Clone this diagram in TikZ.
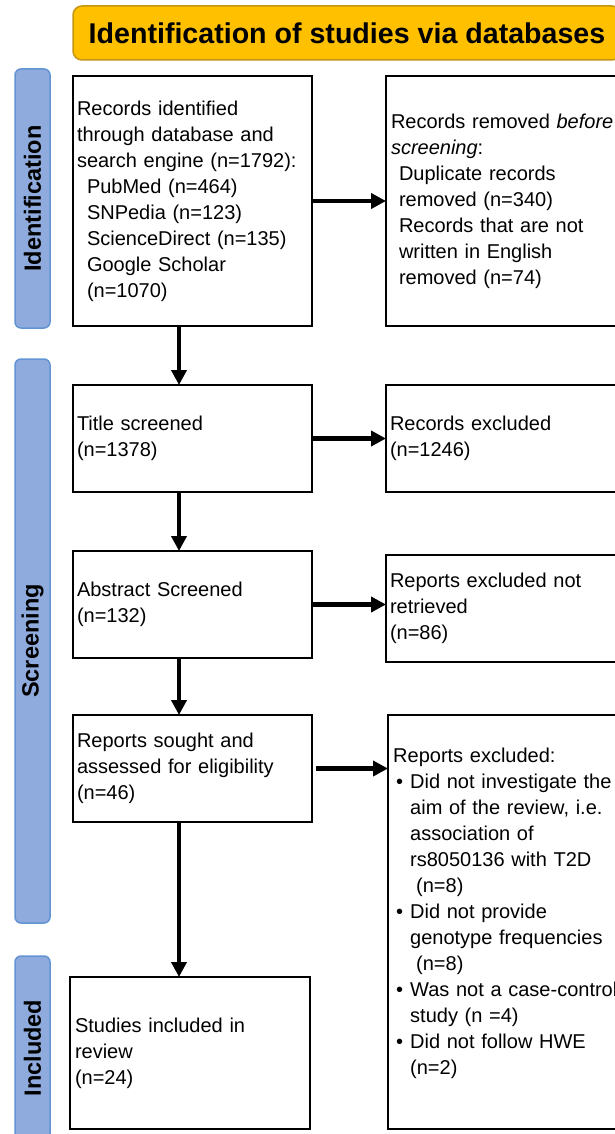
\documentclass[tikz,border=0pt]{standalone}
\usepackage{fontspec}
\setmainfont{Liberation Sans}
\usetikzlibrary{arrows.meta,calc}
\definecolor{gold}{RGB}{255,192,0}
\definecolor{goldborder}{RGB}{196,150,20}
\definecolor{barfill}{RGB}{143,170,220}
\definecolor{barborder}{RGB}{98,148,212}
\newcommand{\bul}{\makebox[17pt][l]{\hspace*{3pt}\textbullet}}
\newcommand{\ind}{\hspace*{17pt}}
\newcommand{\sub}{\hspace*{10pt}}
\begin{document}
\begin{tikzpicture}[x=1pt,y=1pt,
  box/.style={draw=black, line width=2.5pt, rectangle, anchor=north west, outer sep=0pt,
    inner xsep=4pt, inner ysep=0pt, align=left, font=\fontsize{20}{26}\selectfont},
  bar/.style={draw=barborder, fill=barfill, line width=1.5pt, rounded corners=6pt, rotate=90,
    inner sep=0pt, font=\fontsize{23.5}{28}\selectfont\bfseries},
  banner/.style={draw=goldborder, fill=gold, line width=1.5pt, rounded corners=9pt,
    inner sep=0pt, font=\fontsize{28.6}{34}\selectfont\bfseries},
  arr/.style={line width=4.5pt, -{Triangle[length=15pt,width=15pt]}},
]
\useasboundingbox (0,0) rectangle (615,-1134);
\clip (0,0) rectangle (615,-1134);
\fill[white] (0,0) rectangle (615,-1134);

% header and phase bars
\node[banner, minimum width=548, minimum height=54] (title) at (347,-33) {Identification of studies via databases};
\node[bar, minimum width=259, minimum height=35] (idbar) at (32.5,-198.5) {Identification};
\node[bar, minimum width=564, minimum height=35] (scbar) at (32.5,-641) {Screening};
\node[bar, minimum width=184, minimum height=35] (inbar) at (32.5,-1048) {Included};

% left column
\node[box, minimum width=239, minimum height=250, text width=231] (b1) at (73,-76)
 {Records identified\\through database and\\search engine (n=1792):\\\sub PubMed (n=464)\\\sub SNPedia (n=123)\\\sub ScienceDirect (n=135)\\\sub Google Scholar\\\sub (n=1070)};
\node[box, minimum width=239, minimum height=107, text width=231] (b2) at (73,-385)
 {Title screened\\(n=1378)};
\node[box, minimum width=239, minimum height=107, text width=231] (b3) at (73,-551)
 {Abstract Screened\\(n=132)};
\node[box, minimum width=239, minimum height=107, text width=231] (b4) at (73,-715)
 {Reports sought and\\assessed for eligibility\\(n=46)};
\node[box, minimum width=240, minimum height=152, text width=230, inner xsep=5pt] (b5) at (70,-977)
 {Studies included in\\review\\(n=24)};

% right column
\node[box, minimum width=264, minimum height=250, text width=256, inner xsep=5pt] (r1) at (386,-76)
 {Records removed \textit{before}\\\textit{screening}:\\\hspace*{8pt}Duplicate records\\\hspace*{8pt}removed (n=340)\\\hspace*{8pt}Records that are not\\\hspace*{8pt}written in English\\\hspace*{8pt}removed (n=74)};
\node[box, minimum width=264, minimum height=107, text width=256] (r2) at (386,-385)
 {Records excluded\\(n=1246)};
\node[box, minimum width=264, minimum height=107, text width=256] (r3) at (386,-555)
 {Reports excluded not\\retrieved\\(n=86)};
\node[box, minimum width=262, minimum height=414] (r4) at (388,-715) {};
\node[anchor=north west, inner sep=0pt, text width=260, align=left,
      font=\fontsize{20}{26}\selectfont] (r4text) at (393,-748)
 {Reports excluded:\\
  \bul Did not investigate the\\
  \ind aim of the review, i.e.\\
  \ind association of\\
  \ind rs8050136 with T2D\\
  \ind\hspace*{6pt}(n=8)\\
  \bul Did not provide\\
  \ind genotype frequencies\\
  \ind\hspace*{6pt}(n=8)\\
  \bul Was not a case-control\\
  \ind study (n =4)\\
  \bul Did not follow HWE\\
  \ind (n=2)};

% connectors
\coordinate (ax) at (179,0);
\draw[arr] (b1.south -| ax) -- (b2.north -| ax);
\draw[arr] (b2.south -| ax) -- (b3.north -| ax);
\draw[arr] (b3.south -| ax) -- (b4.north -| ax);
\draw[arr] (b4.south -| ax) -- (b5.north -| ax);
\draw[arr] (b1.east) -- (r1.west |- b1.east);
\draw[arr] (b2.east) -- (r2.west |- b2.east);
\draw[arr] (b3.east) -- (r3.west |- b3.east);
\draw[arr, shorten <=4pt] (b4.east) -- (r4.west |- b4.east);
\end{tikzpicture}
\end{document}
